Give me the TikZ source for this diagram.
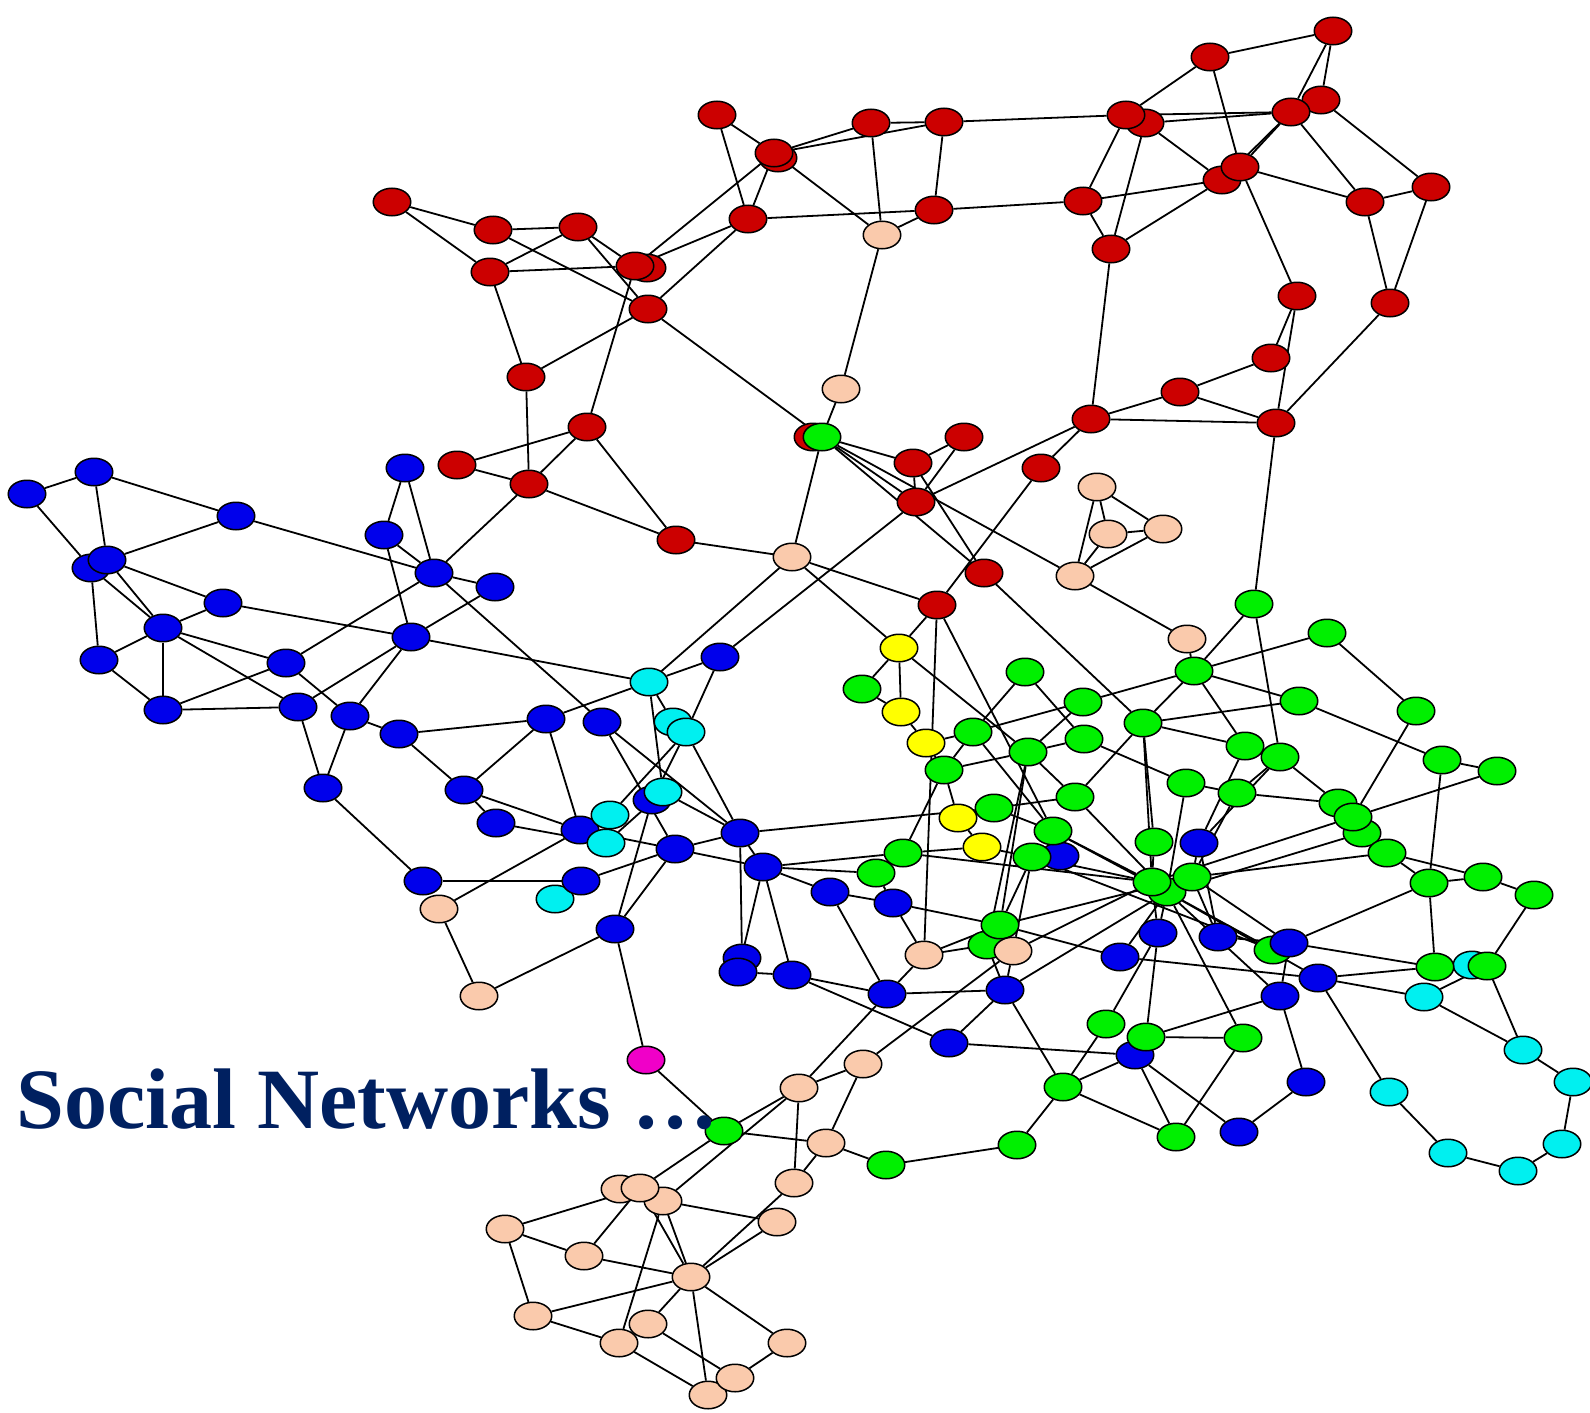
\documentclass[tikz,border=0pt]{standalone}
\usepackage{fontspec}
\setmainfont{Liberation Serif}
\usetikzlibrary{shapes.geometric,backgrounds}
\definecolor{cRed}{RGB}{204,0,0}
\definecolor{cBlue}{RGB}{0,0,235}
\definecolor{cGreen}{RGB}{0,240,0}
\definecolor{cCyan}{RGB}{0,240,240}
\definecolor{cYellow}{RGB}{255,255,0}
\definecolor{cPeach}{RGB}{250,202,172}
\definecolor{cMag}{RGB}{240,0,200}
\definecolor{navy}{RGB}{0,32,96}
\tikzset{
  nd/.style={ellipse, draw=black, line width=1.5pt, minimum width=37.5pt, minimum height=27.5pt, inner sep=0pt},
  R/.style={nd, fill=cRed}, B/.style={nd, fill=cBlue}, G/.style={nd, fill=cGreen},
  C/.style={nd, fill=cCyan}, Y/.style={nd, fill=cYellow}, P/.style={nd, fill=cPeach},
  M/.style={nd, fill=cMag},
  ed/.style={line width=1.8pt, black}
}
\begin{document}
\begin{tikzpicture}[x=1pt,y=-1pt]
\useasboundingbox (0,0) rectangle (1590,1413);
% red
\foreach \n/\x/\y in {r40/813/437, r1/717/115, r2b/778/158, r2/774/153, r3/871/123, r4/944/122, r5/1145/123, r5a/1126/115, r6/1210/57, r7/1333/31, r9/1321/100, r8/1291/112, r10b/1222/180, r10/1240/167, r11/1083/201, r12/1365/202, r13/1431/187, r14/1111/249, r15/1297/296, r16/1390/303, r17/1271/358, r18/1180/392, r19/1091/419, r20/1276/423, r21/392/202, r22/493/230, r23/490/272, r24/578/227, r25b/647/268, r25/635/266, r26/748/219, r27/934/210, r28/648/309, r29/526/377, r30/587/427, r31/457/465, r32/529/484, r33/676/540, r34/964/437, r35/913/463, r36/1041/468, r37/916/502, r38/984/573, r39/937/605}
  \node[R] (\n) at (\x,\y) {};
% peach
\foreach \n/\x/\y in {p1/882/235, p2/841/389, p3/792/557, p4/1097/487, p5/1108/534, p6/1163/529, p7/1075/576, p8/1187/639, p9/439/909, p10/479/996, p13/863/1064, p14/799/1088, p15/826/1143, p16/794/1183, p17/777/1222, p18/620/1189, p20/663/1201, p19/640/1188, p21/505/1229, p22/584/1256, p23/691/1277, p24/533/1316, p25/648/1324, p26/619/1343, p27/787/1343, p29/708/1395, p28/735/1378}
  \node[P] (\n) at (\x,\y) {};
% things drawn behind others
\node[B] (b40) at (1060,856) {};
\node[B] (b48) at (1135,1055) {};
\node[C] (c8) at (1472,965) {};
\node[C] (c7) at (555,899) {};
\foreach \n/\x/\y in {y1/899/648, y2/901/712, y3/926/743, y4/958/818, y5/982/847}
  \node[Y] (\n) at (\x,\y) {};
\node[G] (g39) at (1273,950) {};
% green
\foreach \n/\x/\y in {g1/822/437, g2/862/689, g3/1025/672, g4/1083/702, g5/1143/723, g6/973/732, g7/1084/739, g8/1028/752, g9/944/770, g10/1075/797, g11/994/808, g12/1053/831, g13/1032/857, g14/903/853, g15/876/873, g17/987/945, g16/1000/925, g18/1154/842, g19/1186/783, g20/1237/793, g21/1245/746, g22/1280/757, g23/1194/671, g24/1254/604, g25/1327/633, g26/1299/701, g27/1416/711, g28/1442/760, g29/1497/771, g30/1338/803, g32/1362/833, g31/1353/817, g33/1387/853, g34/1429/883, g35/1483/877, g36/1534/895, g37/1435/967, g38/1487/966, g41/1167/892, g40/1152/882, g42/1192/877, g43/1106/1024, g44/1146/1037, g45/1243/1038, g46/1063/1087, g47/1176/1137, g48/1017/1145, g49/886/1165, g50/724/1131}
  \node[G] (\n) at (\x,\y) {};
% blue
\foreach \n/\x/\y in {b1/27/494, b2/94/472, b3/236/516, b4/405/468, b5/384/535, b6a/91/568, b6/107/560, b7/434/573, b8/495/587, b9/223/603, b10/163/628, b11/411/637, b12/99/660, b13/286/663, b14/163/710, b15/298/707, b16/350/716, b17/399/734, b18/546/719, b19/602/722, b20/323/788, b21/464/790, b22/496/823, b23/423/881, b24/720/657, b25/652/800, b26/580/830, b27/675/849, b28/740/833, b29/763/867, b30/581/881, b31/615/929, b32/830/892, b33/893/903, b34/742/958, b35/738/972, b36/792/975, b37/887/994, b38/1005/990, b39/949/1043, b41/1199/843, b42/1158/933, b43/1120/957, b44/1218/937, b45/1289/943, b46/1318/978, b47/1280/996, b49/1306/1082, b50/1239/1132}
  \node[B] (\n) at (\x,\y) {};
% cyan
\foreach \n/\x/\y in {c1/649/682, c2/673/722, c3/686/732, c4/663/792, c5/610/815, c6/606/843, c9/1424/997, c10/1523/1050, c11/1573/1082, c12/1562/1144, c13/1518/1171, c14/1448/1153, c15/1389/1092}
  \node[C] (\n) at (\x,\y) {};
\node[P] (p11) at (924,955) {};
\node[P] (p12) at (1013,951) {};
\node[M] (m1) at (646,1060) {};
\begin{pgfonlayer}{background}
\fill[white] (0,0) rectangle (1590,1413);
\foreach \a/\b in {r1/r2, r1/r26, r2/r3, r2/r4, r3/r4, r4/r5a, r2/r26, r2/r25, r2/p1, r3/p1, r4/r27, r26/r25, r26/r28, r26/r27, r27/p1, r27/r11, r24/r25, r24/r28, r22/r24, r22/r28, r23/r25, r23/r24, r21/r22, r21/r23, r23/r29, r25/r30, r28/g1, r28/r29, p1/p2, p2/g1, r30/r31, r30/r32, r30/r33, r29/r32, r31/r32, r32/b7, r33/p3, r32/r33}
  \draw[ed] (\a) -- (\b);
\foreach \a/\b in {r7/r6, r7/r9, r7/r8, r6/r5a, r6/r10, r5a/r8, r5/r8, r5a/r11, r5/r14, r5/r10b, r11/r10b, r11/r14, r14/r10b, r8/r10, r8/r10b, r8/r12, r9/r13, r10/r12, r12/r13, r12/r16, r13/r16, r10/r15, r15/r17, r15/r20, r17/r18, r18/r19, r18/r20, r19/r20, r16/r20, r14/r19, r20/g24, r19/r36, r19/r37}
  \draw[ed] (\a) -- (\b);
\foreach \a/\b in {g1/r35, g1/r37, g1/r38, g1/p7, r35/r38, r35/r37, r34/r35, r34/r37, r36/r39, r37/b24, p3/g1, p3/c1, p3/r39, p3/y1, r39/y1, r39/p11, r39/g12, p4/p5, p4/p6, p4/p7, p5/p6, p5/p7, p6/p7, p7/p8, p8/g23}
  \draw[ed] (\a) -- (\b);
\foreach \a/\b in {b1/b2, b1/b6a, b2/b6, b2/b3, b3/b6, b3/b7, b6a/b12, b6a/b10, b6/b10, b6/b9, b9/b10, b9/b11, b12/b10, b12/b14, b10/b14, b10/b13, b10/b15, b14/b13, b14/b15, b13/b7, b13/b16, b15/b20, b15/b11, b16/b11, b16/b17, b16/b20, b5/b4, b4/b7, b5/b7, b5/b11, b7/b8, b7/b19, b8/b11, b11/c1, b17/b18, b17/b21, b21/b18, b21/b22, b21/b26, b22/c6, b18/b26, b20/b23, b23/b30, p9/b26, p9/p10, b31/p10}
  \draw[ed] (\a) -- (\b);
\foreach \a/\b in {c1/b24, b24/c3, c1/b18, c1/c2, c1/c4, b19/b28, b19/b27, c3/b28, c3/c5, c3/b25, c4/b28, b26/c5, b26/b27, c6/c4, b27/b28, b27/b29, b27/b31, b25/b31, b30/b27, b30/c7, b28/g11, b28/b29, b28/b34, b29/b32, b29/g14, b29/b35, b29/b36, b29/g15, b32/b33, b32/b37, b35/b36, b36/b37, b36/b39, b37/p11, b37/p14, b37/b38, p11/b33, b31/m1, m1/g50}
  \draw[ed] (\a) -- (\b);
\foreach \a/\b in {g50/p14, g50/p15, g50/p19, p14/p20, p14/p13, p14/p16, p13/p15, p13/p12, p15/g49, p15/p16, p16/p23, p17/p23, p17/p20, p19/p21, p19/p22, p19/p23, p20/p23, p20/p26, p21/p22, p21/p24, p22/p23, p24/p23, p24/p26, p23/p25, p23/p29, p23/p27, p25/p28, p26/p29, p27/p28, g49/g48}
  \draw[ed] (\a) -- (\b);
\foreach \a/\b in {y1/y2, y1/g2, y2/g2, y2/y3, y1/g8, y3/g6, y3/g9, g6/g3, g3/g7, g6/g4, g4/g8, g7/g8, g7/g19, g6/g9, g6/g12, g9/g8, g9/y4, g9/g14, g11/g12, g11/g10, g11/y4, g8/g10, g8/g16, g8/g17, g10/g41, g12/g40, g12/g41, g13/g16, g13/b40, g13/g40, g14/g15, g14/y5, g14/g40, g15/b33, b33/g16, g16/g42, g19/g20, g19/g41, g20/g42, g22/g20, g21/b41, g5/g21, g5/g10, g5/g18, g5/g40, g5/g26, g23/g5, g23/g4, g23/g25, g23/g26, g23/g21, g24/g23, g24/g22, g25/g27, g26/g28, g27/g31, g28/g29, g28/g34, g29/g31, g22/g30, g30/g20, g31/g40, g32/g41, g33/g42, g33/g34, g33/g35, g34/g35, g35/g36, g34/b45, g34/g37, g36/g38, r38/g5, y4/y5, y5/g13, g18/g40}
  \draw[ed] (\a) -- (\b);
\foreach \a/\b in {g40/b42, g41/b42, g42/b44, g42/b45, g41/g39, g41/b46, g41/b47, b41/g42, b41/b44, b41/g22, p11/g17, p11/g16, p12/g13, p12/g40, p12/b38, b38/g17, b38/b39, b38/g46, b38/g41, b39/b48, g46/g43, g46/b48, g46/g47, g46/g48, g43/b42, g44/b42, g44/g45, g44/b47, b48/g47, b48/b50, g45/g47, g45/g41, b50/b49, b43/g16, b43/b46, b43/g41, b44/b45, b45/g37, b46/g37, b46/c9, b45/b47, b47/b49, c9/c10, g38/c10, c10/c11, c11/c12, c12/c13, c13/c14, c14/c15, c15/b46, c9/g38, g13/g39}
  \draw[ed] (\a) -- (\b);
\end{pgfonlayer}
\node[anchor=base west, inner sep=0pt, text=navy, font=\bfseries\fontsize{86}{90}\selectfont] (title) at (16,1128) {Social Networks …};
\end{tikzpicture}
\end{document}
